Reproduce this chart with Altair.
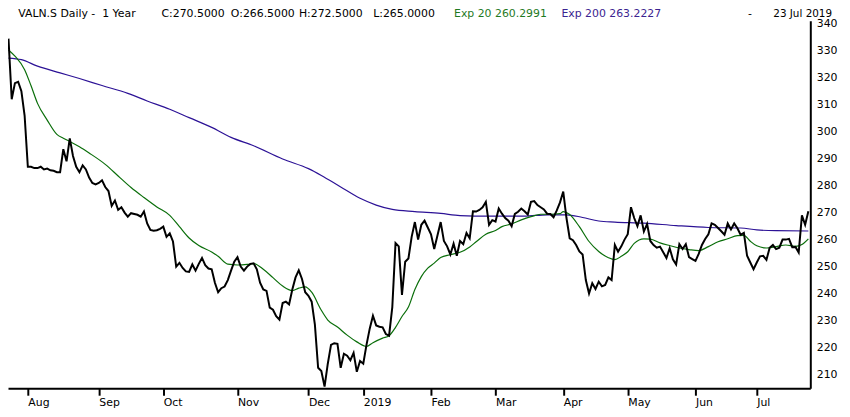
import altair as alt
import pandas as pd

# ---------------- data ----------------
close = [
    334.5, 312, 318, 318.5, 315, 306, 287, 287, 286.5, 286.5,
    287, 286, 286.3, 285.7, 285.5, 285, 285, 293.5, 289, 297.5,
    291, 287, 285, 287.5, 286, 283, 281, 280.5, 281, 282,
    279.5, 278, 272.5, 274.5, 271, 272, 270, 268.5, 269.8, 269.5,
    269.2, 268.5, 270.4, 266, 263.6, 263.3, 263.5, 264, 264.8, 261,
    262.3, 259.3, 250, 251.4, 249.5, 248.2, 248, 250.8, 248.5, 251,
    253.2, 250.5, 249.3, 249, 244, 240.5, 242, 242.6, 245, 248.5,
    251.8, 253.5, 250, 248.5, 250, 251, 251.2, 249, 244, 241.5,
    241, 234.8, 234, 231.6, 230.3, 236.5, 237, 236, 241.5, 246,
    248.6, 245.4, 240.5, 239.2, 237, 228.5, 212.5, 211.3, 205.5, 214,
    221, 221.6, 221.4, 212.5, 217.7, 217, 215.3, 218, 211, 215,
    214, 221, 227, 231.8, 228.2, 227.7, 227.5, 225, 224.4, 235,
    258.7, 257.5, 239.5, 251.8, 253, 261, 266.5, 260, 265.5, 267,
    264.5, 262, 256.5, 261.5, 266.5, 259.5, 257.5, 254.5, 258.5, 254,
    259.5, 258.3, 262.5, 260.5, 270.5, 270.4, 271, 272, 274, 265.5,
    267.2, 266.7, 271.5, 269.6, 268, 267, 265, 269.5, 270.3, 271.5,
    270.5, 269.3, 274, 274.3, 272.8, 272, 271.2, 269.6, 269.5, 268.3,
    270.8, 273.8, 277.8, 268, 260.5, 259.8, 258, 255.6, 254.5, 245,
    240, 243.8, 241.7, 244.4, 242.7, 243.2, 246, 245, 258, 255.5,
    257.5, 260, 262, 272, 268, 265, 269, 263, 265.8, 259.5,
    258, 257, 257.4, 255.3, 253.2, 256.8, 252.7, 250.8, 258.3, 256.5,
    258.3, 253.5, 252.8, 252.1, 254.7, 258, 260.2, 262, 266, 265.5,
    264.3, 263.1, 261.8, 266, 263.8, 266, 264.2, 261.8, 262.5, 254,
    251.5, 249, 251.5, 253.8, 254, 252.5, 257, 258, 256.5, 257,
    260, 260, 260.3, 257.2, 257.3, 255.2, 269, 265.5, 270.5,
]

ema20_idx = [0, 2, 5, 7, 9, 12, 15, 17, 19, 22, 25, 30, 34, 38, 42, 46, 50, 53, 56, 59,
             63, 65, 68, 71, 74, 76, 79, 82, 85, 88, 90, 92, 94, 97, 99, 102, 105, 108,
             111, 113, 116, 118, 120, 122, 124, 126, 128, 130, 132, 134, 137, 140, 143,
             145, 148, 151, 153, 156, 159, 162, 165, 168, 171, 172, 174, 177, 180, 183,
             186, 188, 190, 192, 194, 197, 199, 202, 205, 208, 211, 214, 217, 220, 223,
             226, 228, 230, 232, 235, 238, 241, 244, 246, 248]
ema20_val = [330.3, 328, 323, 317, 310.5, 304.3, 299, 297.6, 296.4, 294.4, 292.1, 287.9,
             283.6, 279.3, 275.6, 272.1, 269, 264.8, 260.6, 257.8, 255.4, 253.8, 250.9,
             250.6, 250.8, 251.1, 249, 245.9, 242.8, 241.1, 242, 242.5, 240.5, 233.8,
             230.2, 227.6, 224.6, 222.1, 220.4, 221.8, 223.5, 224.4, 227.5, 231.5, 235,
             241.5, 246.3, 249.4, 251.3, 253.4, 254.4, 255.3, 257.3, 259.2, 262, 263.4,
             264.8, 265.8, 267.3, 268.5, 269.4, 269.4, 269.6, 270.4, 269.3, 264.8, 259.3,
             255.6, 253.3, 252.6, 253.8, 255.5, 258.6, 260.3, 260.2, 258.8, 257.8, 256.9,
             256.3, 255.9, 257.4, 259.2, 260.3, 261.5, 261.6, 259.4, 257.7, 256.9, 257.4,
             258, 257.5, 258.2, 260.3]

ema200_idx = [0, 4, 9, 16, 22, 29, 37, 43, 50, 56, 63, 69, 76, 85, 93, 97, 103, 109, 114,
              119, 126, 134, 140, 149, 160, 167, 173, 178, 183, 188, 197, 207, 217, 227,
              232, 238, 248]
ema200_val = [327.3, 326.7, 324.3, 321.8, 319.7, 317.1, 314.2, 311.4, 308.3, 305.2, 301.6,
              297.9, 294.8, 289.9, 286.3, 283.8, 279.5, 275.3, 272.8, 271.2, 270.4, 269.7,
              268.9, 268.7, 268.7, 269.2, 269.2, 268.2, 266.9, 266.5, 266.1, 265.2, 264.5,
              264.3, 263.6, 263.3, 263.2]

holidays = ["2018-08-01", "2018-12-24", "2018-12-25", "2018-12-26", "2018-12-31",
            "2019-01-01", "2019-01-02", "2019-04-19", "2019-04-22", "2019-05-01",
            "2019-05-30", "2019-06-10"]
month_labels = ["Aug", "Sep", "Oct", "Nov", "Dec", "2019", "Feb", "Mar", "Apr", "May",
                "Jun", "Jul"]
y_ticks = list(range(210, 341, 10))

NB = "\u00a0"
hdr_name = "VALN.S Daily -" + NB + NB + "1 Year"
hdr_c = "C:270.5000"
hdr_o = "O:266.5000"
hdr_h = "H:272.5000"
hdr_l = "L:265.0000"
hdr_e20 = "Exp 20 260.2991"
hdr_e200 = "Exp 200 263.2227"
hdr_dash = "-"
hdr_date = "23 Jul 2019"

# ---------------- tables ----------------
days = pd.bdate_range("2018-07-24", "2019-07-23")
days = days[~days.isin(pd.to_datetime(holidays))]
assert len(days) == len(close)
month_idx = [i for i in range(1, len(days)) if days[i].month != days[i - 1].month]

df_close = pd.DataFrame({"i": range(len(close)), "v": close})
df_e20 = pd.DataFrame({"i": ema20_idx, "v": ema20_val})
df_e200 = pd.DataFrame({"i": ema200_idx, "v": ema200_val})

FONT = "DejaVu Sans"
FS = 11

label_expr = "{}[indexof({}, datum.value)]".format(
    "[" + ",".join("'%s'" % m for m in month_labels) + "]",
    "[" + ",".join(str(m) for m in month_idx) + "]",
)

x_scale = alt.Scale(domain=[-0.15, 248.6], nice=False, zero=False)
y_scale = alt.Scale(domain=[204.9, 341.1], nice=False, zero=False)

x_axis = alt.Axis(
    values=month_idx, labelExpr=label_expr, orient="bottom", grid=False,
    domainColor="black", domainWidth=2, tickColor="black", tickWidth=2, tickSize=7,
    labelAlign="left", labelBaseline="top", labelPadding=1, labelFont=FONT,
    labelFontSize=FS, labelColor="black", labelOverlap=False, labelFlush=False,
    labelBound=False, title="",
)
y_axis = alt.Axis(
    values=y_ticks, orient="right", grid=False, ticks=False, domainColor="black",
    domainWidth=2, labelPadding=6, labelFont=FONT, labelFontSize=FS,
    labelColor="black", labelBaseline="middle", labelOverlap=False, labelFlush=False,
    labelBound=False, title="",
)


def enc(chart):
    return chart.encode(
        x=alt.X("i:Q", scale=x_scale, axis=x_axis, title=""),
        y=alt.Y("v:Q", scale=y_scale, axis=y_axis, title=""),
    )


e200 = enc(alt.Chart(df_e200).mark_line(color="#2c1296", strokeWidth=1.2, interpolate="monotone"))
e20 = enc(alt.Chart(df_e20).mark_line(color="#0a6e0a", strokeWidth=1.2, interpolate="monotone"))
price = enc(alt.Chart(df_close).mark_line(color="black", strokeWidth=2))


def header(txt, xpos, color, align="left", ypos=-3.5, size=FS):
    return alt.Chart(pd.DataFrame({"t": [txt]})).mark_text(
        font=FONT, fontSize=size, color=color, align=align, baseline="alphabetic"
    ).encode(text="t:N", x=alt.value(xpos), y=alt.value(ypos))


headers = [
    header(hdr_name, 10.3, "black"),
    header(hdr_c, 155, "black"),
    header(hdr_o, 225, "black"),
    header(hdr_h, 293.7, "black"),
    header(hdr_l, 368.7, "black"),
    header(hdr_e20, 450.3, "#1f7a1f"),
    header(hdr_e200, 558.7, "#3b2390"),
    header(hdr_dash, 747, "black"),
    header(hdr_date, 832, "black", align="right", ypos=-4, size=10.5),
]

chart = alt.layer(e200, e20, price, *headers).properties(
    width=810,
    height=371,
    autosize=alt.AutoSizeParams(type="none"),
    padding={"left": 0, "top": 11, "right": 32, "bottom": 19},
    background="white",
).configure_view(stroke=None)

chart.save("out.html", embed_options={"renderer": "svg", "actions": False})
